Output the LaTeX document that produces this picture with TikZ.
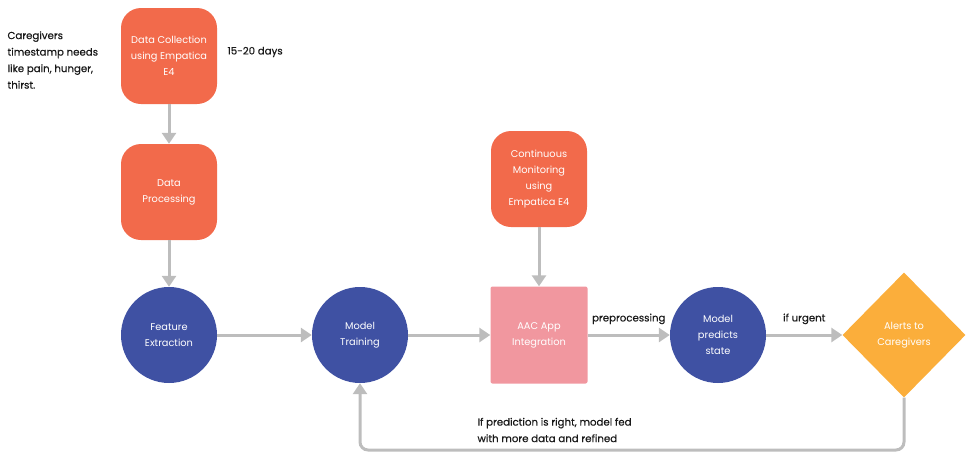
\documentclass[tikz,border=0pt]{standalone}
\usepackage{fontspec}
\setmainfont{Poppins}
\newfontfamily\notefont{Poppins}[FakeBold=0.5]
\usetikzlibrary{arrows.meta,shapes.geometric}

\definecolor{stepOrange}{HTML}{F26A4B}
\definecolor{stepBlue}{HTML}{3F51A3}
\definecolor{stepPink}{HTML}{F1979F}
\definecolor{stepYellow}{HTML}{FBAE3B}
\definecolor{flowGray}{HTML}{BDBDBD}

\begin{document}
\begin{tikzpicture}[
    x = 1pt, y = -1pt,
    font = \fontsize{9.8}{16}\selectfont,
    device/.style = {fill = stepOrange,
      text = white,
      rounded corners = 20pt,
      minimum size = 96pt,
      align = center},
    stage/.style = {circle,
      fill = stepBlue,
      text = white,
      minimum size = 96pt,
      inner sep = 0pt,
      align = center},
    app/.style = {fill = stepPink,
      text = white,
      rounded corners = 2pt,
      minimum size = 97pt,
      align = center},
    alert/.style = {diamond,
      fill = stepYellow,
      text = white,
      minimum width = 123pt,
      minimum height = 125pt,
      inner sep = 0pt,
      align = center},
    note/.style = {text = black!90,
      font = \notefont\fontsize{10.2}{16.5}\selectfont,
      align = left},
    flow/.style = {draw = flowGray,
      line width = 3pt,
      -{Triangle[width = 14pt, length = 11pt]}},
    ]

    \useasboundingbox (0, 0) rectangle (966, 453);

    % collection phase
    \node at (169, 56)
    [device, name = collect] {Data Collection\\using Empatica\\E4};
    \node at (169, 192)
    [device, name = process] {Data\\Processing};

    \node at (4, 60)
    [note, anchor = west, name = caregivers]
    {Caregivers\\timestamp needs\\like pain, hunger,\\thirst.};
    \node at (224, 52)
    [note, anchor = west, name = days] {15-20 days};

    % learning phase
    \node at (169, 335)
    [stage, name = features] {Feature\\Extraction};
    \node at (360, 335)
    [stage, name = training] {Model\\Training};

    % deployment phase
    \node at (539, 179)
    [device, name = monitor] {Continuous\\Monitoring\\using\\Empatica E4};
    \node at (539, 335)
    [app, name = aac] {AAC App\\Integration};
    \node at (718, 335)
    [stage, name = predict] {Model\\predicts\\state};
    \node at (904, 335)
    [alert, name = alerts] {Alerts to\\Caregivers};

    \draw [flow] (collect) to (process);
    \draw [flow] (process) to (features);
    \draw [flow] (features) to (training);
    \draw [flow] (training) to (aac);
    \draw [flow] (monitor) to (aac);

    \draw [flow] (aac) to node [note, above = 6pt] {preprocessing} (predict);
    \draw [flow] (predict) to node [note, above = 6pt] {if urgent} (alerts);

    % feedback loop
    \coordinate (loop) at (904, 450);
    \draw [flow, rounded corners = 8pt] (alerts.south) -- (loop) -| (training.south);
    \node at (474, 430)
    [note, anchor = west, name = refine]
    {If prediction is right, model fed\\with more data and refined};

  \end{tikzpicture}
\end{document}
